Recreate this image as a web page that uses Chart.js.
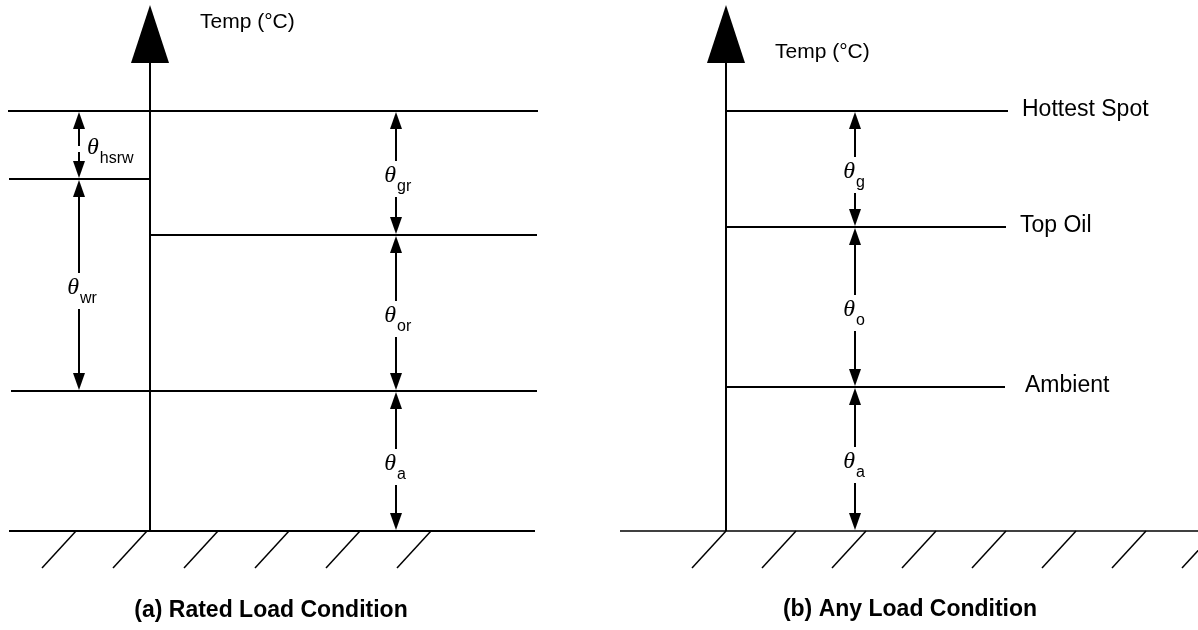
<!DOCTYPE html>
<html>
<head>
<meta charset="utf-8">
<script src="https://cdn.jsdelivr.net/npm/chart.js@4.4.1/dist/chart.umd.min.js"></script>
<style>
	body { margin: 0; background: #fff; }
	.panel { position: absolute; top: 0; width: 599px; height: 630px; }
</style>
</head>
<body>
<div class="panel" style="left:0"><canvas id="chart-a" width="599" height="630"></canvas></div>
<div class="panel" style="left:599px"><canvas id="chart-b" width="599" height="630"></canvas></div>
<script>
// temperature levels above the ground line, in diagram units (1 unit = 4 px)
const levelKeysA = ['ground', 'ambient', 'topOil', 'winding', 'hotSpot']
const levelValuesA = [0, 35, 74, 88, 105]
const levelKeysB = ['ground', 'ambient', 'topOil', 'hotSpot']
const levelValuesB = [0, 36, 76, 105]
const sideLabelsB = ['', 'Ambient', 'Top Oil', 'Hottest Spot']

// dimension arrows: subscript, lower level, upper level
const dimSubsA = ['hsrw', 'wr', 'gr', 'or', 'a']
const dimFromA = ['winding', 'ambient', 'topOil', 'ambient', 'ground']
const dimToA = ['hotSpot', 'winding', 'hotSpot', 'topOil', 'ambient']
const dimSubsB = ['g', 'o', 'a']
const dimFromB = ['topOil', 'ambient', 'ground']
const dimToB = ['hotSpot', 'topOil', 'ambient']

const axisTopLevel = 117
const axisLabel = 'Temp (°C)'
const titles = ['(a) Rated Load Condition', '(b) Any Load Condition']
const hatchCounts = [6, 8]

; (function() {
	// layout of each panel, in canvas pixels (x scale is 1:1 with the canvas)
	const layouts = [
		{
			axisX: 150,
			spans: { hotSpot: [8, 538], winding: [9, 150], topOil: [150, 537], ambient: [11, 537], ground: [9, 535] },
			dimX: { hsrw: 79, wr: 79, gr: 396, or: 396, a: 396 },
			sideRight: { hsrw: true },
			labelGap: {},
			hatchStart: 76, hatchStep: 71,
			tempAt: [200, 22], titleAt: [271, 611],
			groundWidth: 2,
		},
		{
			axisX: 127,
			spans: { hotSpot: [127, 409], topOil: [127, 407], ambient: [127, 406], ground: [21, 599] },
			dimX: { g: 256, o: 256, a: 256 },
			sideRight: {},
			labelGap: { hotSpot: 14, topOil: 14, ambient: 20 },
			hatchStart: 127, hatchStep: 70,
			tempAt: [176, 52], titleAt: [311, 610],
			groundWidth: 1.5,
		},
	]

	function line(pts, width) {
		return {
			data: pts,
			showLine: true,
			borderColor: '#000',
			borderWidth: width || 2,
			pointRadius: 0,
			fill: false,
		}
	}

	function buildPanel(idx, keys, values, subs, from, to, sideLabels) {
		const L = layouts[idx]
		const lv = {}
		keys.forEach((k, i) => { lv[k] = values[i] })

		const datasets = []
		// temperature axis
		datasets.push(line([{ x: L.axisX, y: lv.ground }, { x: L.axisX, y: axisTopLevel }]))
		// level lines
		keys.forEach((k) => {
			const s = L.spans[k]
			datasets.push(line([{ x: s[0], y: lv[k] }, { x: s[1], y: lv[k] }], k === 'ground' ? L.groundWidth : 2))
		})
		// ground hatching (each stroke drops 9.25 units = 37 px, leans 34 px left)
		for (let i = 0; i < hatchCounts[idx]; ++i) {
			const hx = L.hatchStart + i * L.hatchStep
			datasets.push(line([{ x: hx, y: lv.ground }, { x: hx - 34, y: lv.ground - 9.25 }], 1.5))
		}

		const diagram = {
			id: 'diagram' + idx,
			afterDatasetsDraw(chart) {
				const ctx = chart.ctx
				const xs = chart.scales.x, ys = chart.scales.y
				const X = (v) => xs.getPixelForValue(v)
				const Y = (v) => ys.getPixelForValue(v)

				function head(x, tipY, dir, len, half) {
					ctx.beginPath()
					ctx.moveTo(x, tipY)
					ctx.lineTo(x - half, tipY + dir * len)
					ctx.lineTo(x + half, tipY + dir * len)
					ctx.closePath()
					ctx.fill()
				}

				ctx.save()
				ctx.fillStyle = '#000'
				ctx.strokeStyle = '#000'
				ctx.lineWidth = 2

				// big axis arrowhead
				const ax = X(L.axisX)
				const atop = Y(axisTopLevel)
				head(ax, 5, 1, atop - 5, 19)

				// dimension arrows with theta labels
				subs.forEach((sub, i) => {
					const x = X(L.dimX[sub])
					const yTop = Y(lv[to[i]])
					const yBot = Y(lv[from[i]])
					const yc = (yTop + yBot) / 2 + 3
					const side = L.sideRight[sub]
					const g0 = side ? yc - 2 : yc - 15
					const g1 = side ? yc + 4 : yc + 21

					ctx.beginPath()
					ctx.moveTo(x, yTop + 10); ctx.lineTo(x, g0)
					ctx.moveTo(x, g1); ctx.lineTo(x, yBot - 10)
					ctx.stroke()
					head(x, yTop + 1, 1, 17, 6)
					head(x, yBot - 1, -1, 17, 6)

					ctx.textBaseline = 'middle'
					ctx.font = 'italic 24px "Liberation Serif"'
					let subX
					if (side) {
						ctx.textAlign = 'left'
						ctx.fillText('\u03B8', x + 8, yc)
						subX = x + 8 + ctx.measureText('\u03B8').width + 1
					} else {
						ctx.textAlign = 'right'
						ctx.fillText('\u03B8', x, yc)
						subX = x + 1
					}
					ctx.font = '16px "Liberation Sans"'
					ctx.textAlign = 'left'
					ctx.fillText(sub, subX, yc + 11)
				})

				// level names (right panel)
				if (sideLabels) {
					ctx.font = '23px "Liberation Sans"'
					ctx.textAlign = 'left'
					ctx.textBaseline = 'middle'
					keys.forEach((k, i) => {
						if (!sideLabels[i]) return
						ctx.fillText(sideLabels[i], X(L.spans[k][1]) + L.labelGap[k], Y(lv[k]) - 1)
					})
				}

				// axis label and caption
				ctx.font = '21px "Liberation Sans"'
				ctx.textAlign = 'left'
				ctx.textBaseline = 'middle'
				ctx.fillText(axisLabel, L.tempAt[0], L.tempAt[1])
				ctx.font = 'bold 23px "Liberation Sans"'
				ctx.textAlign = 'center'
				ctx.fillText(titles[idx], L.titleAt[0], L.titleAt[1])
				ctx.restore()
			},
		}

		return new Chart(document.getElementById(idx === 0 ? 'chart-a' : 'chart-b'), {
			type: 'scatter',
			data: { datasets: datasets },
			options: {
				responsive: false,
				animation: false,
				devicePixelRatio: 1,
				layout: { padding: 0 },
				plugins: { legend: { display: false }, tooltip: { enabled: false } },
				scales: {
					x: { type: 'linear', min: 0, max: 599, display: false },
					y: { type: 'linear', min: -24.75, max: 132.75, display: false },
				},
			},
			plugins: [diagram],
		})
	}

	buildPanel(0, levelKeysA, levelValuesA, dimSubsA, dimFromA, dimToA, null)
	buildPanel(1, levelKeysB, levelValuesB, dimSubsB, dimFromB, dimToB, sideLabelsB)
})()
</script>
</body>
</html>
